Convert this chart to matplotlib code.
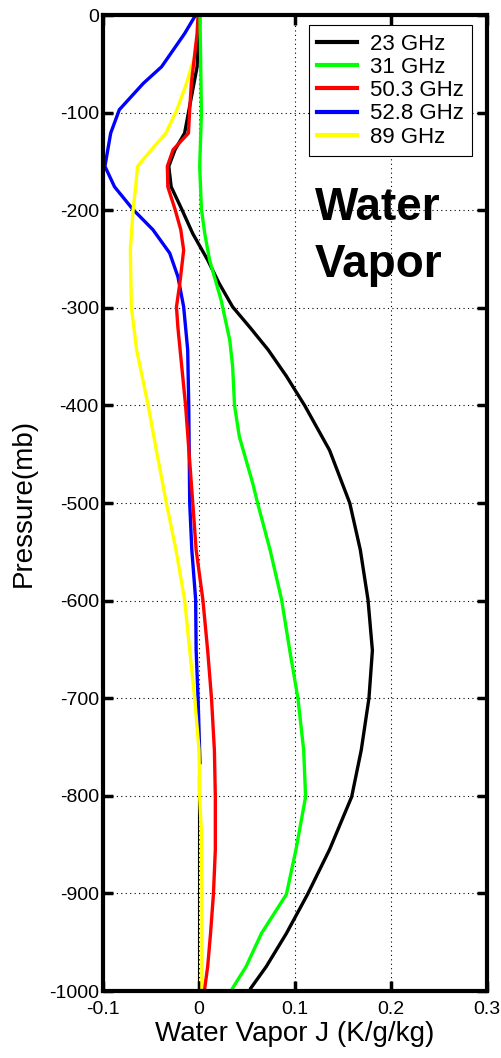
import matplotlib
matplotlib.use("Agg")
import matplotlib.pyplot as plt

plt.rcParams['font.family'] = ['Liberation Sans', 'DejaVu Sans']
plt.rcParams['axes.unicode_minus'] = False

# pressure levels (mb) and weighting function values per channel
p_23 = [0, -53, -100, -121, -138, -155, -176, -199, -224, -251, -275, -299, -320,
        -343, -370, -400, -446, -500, -548, -599, -651, -700, -753, -801, -855,
        -901, -941, -975, -997]
j_23 = [0.0, -0.002, -0.011, -0.015, -0.025, -0.0315, -0.029, -0.018, -0.0065,
        0.009, 0.021, 0.035, 0.053, 0.072, 0.091, 0.110, 0.136, 0.157, 0.168,
        0.176, 0.1806, 0.177, 0.169, 0.159, 0.136, 0.113, 0.091, 0.070, 0.054]

p_31 = [0, -100, -155, -199, -224, -251, -292, -333, -360, -400, -432, -480, -500,
        -548, -599, -651, -700, -753, -801, -855, -901, -941, -975, -997]
j_31 = [0.001, 0.0025, 0.0007, 0.0025, 0.006, 0.011, 0.023, 0.032, 0.035, 0.037,
        0.042, 0.056, 0.061, 0.074, 0.086, 0.0945, 0.103, 0.109, 0.111, 0.101,
        0.091, 0.065, 0.049, 0.035]

p_503 = [0, -19, -70, -97, -121, -138, -155, -176, -199, -220, -241, -275, -299,
         -320, -400, -500, -548, -599, -651, -700, -753, -801, -855, -901, -941,
         -975, -997]
j_503 = [-0.001, -0.002, -0.008, -0.0097, -0.011, -0.027, -0.033, -0.0325, -0.025,
         -0.019, -0.016, -0.020, -0.0235, -0.022, -0.014, -0.0065, -0.003, 0.004,
         0.009, 0.013, 0.016, 0.017, 0.017, 0.015, 0.012, 0.009, 0.006]

p_528 = [0, -19, -36, -53, -70, -97, -121, -155, -176, -199, -220, -244, -268,
         -299, -343, -400, -500, -548, -599, -651, -700, -766]
j_528 = [-0.0035, -0.015, -0.027, -0.039, -0.058, -0.083, -0.092, -0.098, -0.088,
         -0.069, -0.048, -0.0305, -0.022, -0.016, -0.0118, -0.0107, -0.0097,
         -0.0075, -0.0035, -0.003, -0.001, 0.001]

p_89 = [0, -36, -53, -70, -97, -121, -138, -155, -176, -199, -240, -299, -343,
        -400, -446, -500, -548, -599, -651, -700, -753, -801, -838, -901, -997]
j_89 = [0.0007, -0.002, -0.008, -0.013, -0.023, -0.0345, -0.0496, -0.064, -0.066,
        -0.0686, -0.0715, -0.0705, -0.065, -0.053, -0.0444, -0.034, -0.024, -0.015,
        -0.0097, -0.0045, 0.0, 0.0007, 0.0025, 0.003, 0.003]

# thin zero line seen beside the yellow curve near the surface
p_zero = [-780, -1000]
j_zero = [-0.0015, -0.0015]

labels = ['23 GHz', '31 GHz', '50.3 GHz', '52.8 GHz', '89 GHz']
colors = ['#000000', '#00ff00', '#ff0000', '#0000ff', '#ffff00']

fig = plt.figure(figsize=(5.02, 10.58), dpi=100)
ax = fig.add_axes([0.2052, 0.0633, 0.765, 0.9225])

ax.plot(j_zero, p_zero, color='black', lw=0.8)
series = [(j_23, p_23), (j_31, p_31), (j_503, p_503), (j_528, p_528), (j_89, p_89)]
order = [3, 4, 0, 2, 1]  # draw blue/yellow under the others
lines = {}
for i in order:
    x, y = series[i]
    lines[i], = ax.plot(x, y, color=colors[i], lw=2.4, label=labels[i],
                        solid_joinstyle='round')

ax.set_xlim(-0.1, 0.3)
ax.set_ylim(-1000, 0)
ax.set_xticks([-0.1, 0, 0.1, 0.2, 0.3])
ax.set_xticklabels(['-0.1', '0', '0.1', '0.2', '0.3'])
ax.set_yticks(range(-1000, 1, 100))
ax.grid(True, color='black', linestyle=(0, (1, 3)), lw=0.8)
ax.tick_params(direction='in', length=7, width=2.5, labelsize=14,
               top=True, right=True)
ax.tick_params(axis='x', pad=7)
ax.tick_params(axis='y', pad=3)
for s in ax.spines.values():
    s.set_linewidth(3)

ax.set_xlabel('Water Vapor J (K/g/kg)', fontsize=20, labelpad=2)
ax.set_ylabel('Pressure(mb)', fontsize=20, labelpad=9)

ax.text(0.1205, -210, 'Water', fontsize=33, fontweight='bold', va='baseline')
ax.text(0.1205, -268, 'Vapor', fontsize=33, fontweight='bold', va='baseline')

leg = ax.legend([lines[i] for i in range(5)], labels, loc='upper right',
                bbox_to_anchor=(0.962, 0.99), borderaxespad=0,
                fontsize=16, frameon=True, fancybox=False, framealpha=1,
                edgecolor='black', handlelength=1.8,
                handletextpad=0.55, labelspacing=0.1, borderpad=0.4)
leg.get_frame().set_linewidth(0.8)
for h in leg.get_lines():
    h.set_linewidth(3)

fig.savefig('out.png', dpi=100)
